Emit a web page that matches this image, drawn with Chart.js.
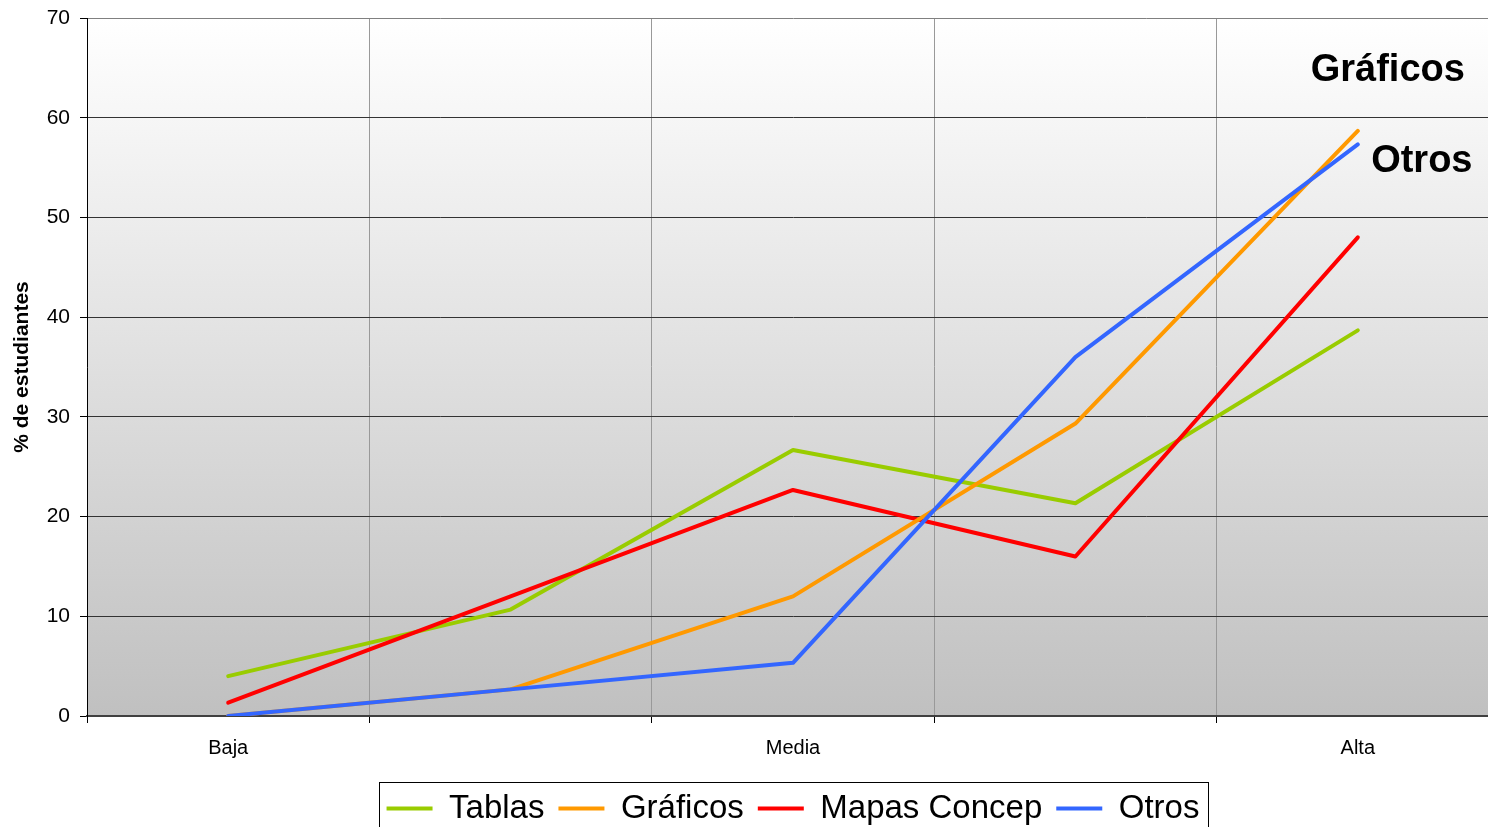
<!DOCTYPE html>
<html>
<head>
<meta charset="utf-8">
<script src="https://cdn.jsdelivr.net/npm/chart.js@4/dist/chart.umd.min.js"></script>
<style>
  html, body { margin: 0; padding: 0; background: #fff; overflow: hidden; }
  #wrap { width: 1488px; height: 827px; overflow: hidden; }
</style>
</head>
<body>
<div id="wrap"><canvas id="myChart" width="1500" height="850"></canvas></div>
<script>
var categorias = ['Baja', '', 'Media', '', 'Alta'];
var tablas = [4, 10.67, 26.67, 21.33, 38.67];
var graficos = [0, 2.67, 12, 29.33, 58.67];
var mapas = [1.33, 12, 22.67, 16, 48];
var otros = [0, 2.67, 5.33, 36, 57.33];
var yTicks = [0, 10, 20, 30, 40, 50, 60, 70];

var fuente = 'Liberation Sans, Arial, sans-serif';

// fondo degradado del area de trazado
var fondo = {
  id: 'fondo',
  beforeDraw: function(chart) {
    var a = chart.chartArea, ctx = chart.ctx;
    var g = ctx.createLinearGradient(0, a.top, 0, a.bottom);
    g.addColorStop(0, '#ffffff');
    g.addColorStop(1, '#c0c0c0');
    ctx.save();
    ctx.fillStyle = g;
    ctx.fillRect(a.left, a.top, a.right - a.left, a.bottom - a.top);
    ctx.restore();
  }
};

// leyenda centrada en el area y con marco
var marcoLeyenda = {
  id: 'marcoLeyenda',
  afterLayout: function(chart) {
    var l = chart.legend;
    l.left = chart.chartArea.left;
    l.right = chart.chartArea.right;
    l.width = l.right - l.left;
  },
  afterDraw: function(chart) {
    var hb = chart.legend.legendHitBoxes;
    if (!hb || !hb.length) return;
    var last = hb[hb.length - 1];
    var ctx = chart.ctx;
    ctx.save();
    ctx.strokeStyle = '#000';
    ctx.lineWidth = 1;
    ctx.strokeRect(Math.round(hb[0].left - 8) + 0.5, Math.round(hb[0].top - 10) + 0.5,
      Math.round(last.left + last.width - hb[0].left + 16), 80);
    ctx.restore();
  }
};

// etiquetas junto al ultimo punto
var etiquetas = {
  id: 'etiquetas',
  afterDatasetsDraw: function(chart) {
    var ctx = chart.ctx;
    var marcas = [[1, 'Gráficos', 30, -60], [3, 'Otros', 64, 17]];
    ctx.save();
    ctx.font = 'bold 38px ' + fuente;
    ctx.fillStyle = '#000';
    ctx.textAlign = 'center';
    ctx.textBaseline = 'middle';
    marcas.forEach(function(m) {
      var pts = chart.getDatasetMeta(m[0]).data;
      var p = pts[pts.length - 1];
      ctx.fillText(m[1], p.x + m[2], p.y + m[3]);
    });
    ctx.restore();
  }
};

var ctx = document.getElementById('myChart').getContext('2d');
var myChart = new Chart(ctx, {
  type: 'line',
  data: {
    labels: categorias,
    datasets: [
      { label: 'Tablas', data: tablas, borderColor: '#99cc00', backgroundColor: '#99cc00', borderWidth: 4, order: 4 },
      { label: 'Gráficos', data: graficos, borderColor: '#ff9900', backgroundColor: '#ff9900', borderWidth: 4, order: 2 },
      { label: 'Mapas Concep', data: mapas, borderColor: '#ff0000', backgroundColor: '#ff0000', borderWidth: 4, order: 3 },
      { label: 'Otros', data: otros, borderColor: '#3366ff', backgroundColor: '#3366ff', borderWidth: 4, order: 1 }
    ]
  },
  options: {
    responsive: false,
    animation: false,
    devicePixelRatio: 1,
    layout: { padding: { top: 18, left: 0, right: 1, bottom: 15 } },
    elements: {
      line: { borderWidth: 4, tension: 0, borderCapStyle: 'round', borderJoinStyle: 'round' },
      point: { radius: 0, hoverRadius: 0 }
    },
    scales: {
      x: {
        offset: true,
        grid: { color: '#999999', lineWidth: 1, tickLength: 7, tickColor: '#000', offset: true },
        border: { color: '#404040', width: 2 },
        ticks: { color: '#000', font: { family: fuente, size: 20 }, padding: 13, maxRotation: 0, autoSkip: false },
        afterFit: function(s) { s.height = 62; }
      },
      y: {
        min: 0, max: 70,
        afterBuildTicks: function(s) { s.ticks = yTicks.map(function(v) { return { value: v }; }); },
        grid: {
          color: function(c) { return c.tick && c.tick.value === 70 ? '#808080' : '#333333'; },
          lineWidth: 1, tickLength: 7, tickColor: '#000'
        },
        border: { color: '#000', width: 1 },
        ticks: { color: '#000', font: { family: fuente, size: 21 }, padding: 10 },
        title: { display: true, text: '% de estudiantes', color: '#000', font: { family: fuente, size: 21, weight: 'bold' }, padding: { top: 10, bottom: 0 } },
        afterFit: function(s) { s.width = 87; s.paddingTop = 0; s.paddingBottom = 0; }
      }
    },
    plugins: {
      legend: {
        position: 'bottom',
        labels: {
          usePointStyle: true,
          pointStyle: 'line',
          pointStyleWidth: 46,
          color: '#000',
          font: { family: fuente, size: 33 },
          padding: 14,
          sort: function(a, b) { return a.datasetIndex - b.datasetIndex; }
        }
      },
      tooltip: { enabled: false }
    }
  },
  plugins: [fondo, marcoLeyenda, etiquetas]
});
</script>
</body>
</html>
